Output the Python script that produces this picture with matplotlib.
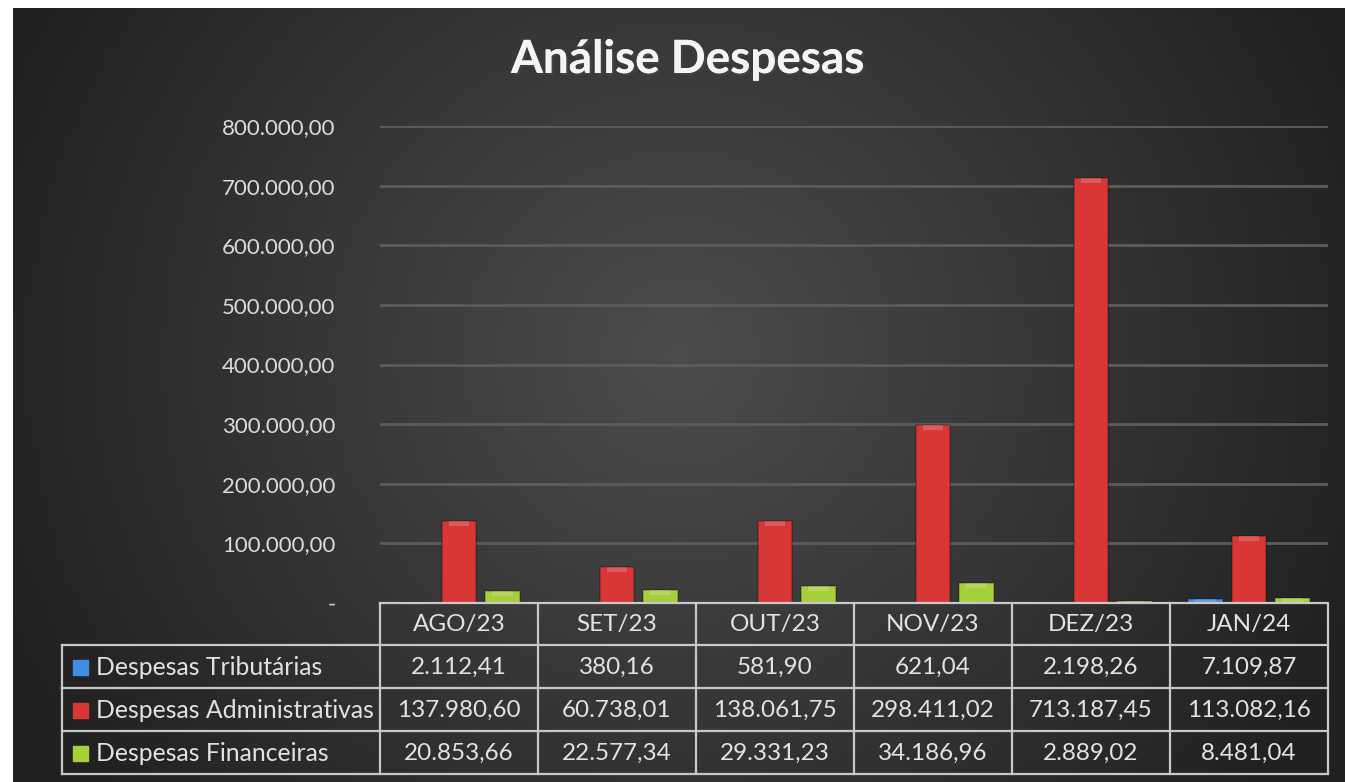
import matplotlib
matplotlib.use("Agg")
import matplotlib.pyplot as plt
import matplotlib.patheffects as pe
from matplotlib.patches import Rectangle
import numpy as np

months = ["AGO/23", "SET/23", "OUT/23", "NOV/23", "DEZ/23", "JAN/24"]
series = ["Despesas Tributárias", "Despesas Administrativas", "Despesas Financeiras"]
tributarias = [2112.41, 380.16, 581.90, 621.04, 2198.26, 7109.87]
administrativas = [137980.60, 60738.01, 138061.75, 298411.02, 713187.45, 113082.16]
financeiras = [20853.66, 22577.34, 29331.23, 34186.96, 2889.02, 8481.04]
colors = ["#3f8ee0", "#d93636", "#a6cf3c"]
yticks = [0, 100000, 200000, 300000, 400000, 500000, 600000, 700000, 800000]


def fmt_br(v):
    s = f"{v:,.2f}"
    return s.replace(",", "X").replace(".", ",").replace("X", ".")


W, H = 1345, 782
plt.rcParams['font.family'] = ['Lato', 'DejaVu Sans']
fig = plt.figure(figsize=(W / 100, H / 100), dpi=100)
fig.patch.set_facecolor("white")

# background gradient (lighter in the middle, dark at the edges)
bg = fig.add_axes([13 / W, 0, 1 - 13 / W, 1 - 8 / H])
yy, xx = np.mgrid[0:1:200j, 0:1:300j]
d = np.sqrt(((xx - 0.5) / 0.55) ** 2 + ((yy - 0.45) / 0.9) ** 2)
shade = 0.30 - 0.17 * np.clip(d, 0, 1)
bg.imshow(np.dstack([shade, shade, shade]), aspect="auto", extent=[0, 1, 0, 1])
bg.axis("off")

# main plot
x0, x1, yb, yt = 380, 1328, 603, 126
ax = fig.add_axes([x0 / W, 1 - yb / H, (x1 - x0) / W, (yb - yt) / H])
ax.set_facecolor("none")
x = np.arange(len(months))
w = 0.22
off = 0.275
data = [tributarias, administrativas, financeiras]
for i, vals in enumerate(data):
    ax.bar(x + (i - 1) * off, vals, w, color=colors[i], edgecolor="none", zorder=3)
    # darker sides + bevelled top
    ax.bar(x + (i - 1) * off, vals, w, color="none", edgecolor="black",
           linewidth=1.2, alpha=0.25, zorder=4)
    ax.bar(x + (i - 1) * off, [min(v, 9000) for v in vals], w * 0.6,
           bottom=[v - min(v, 9000) for v in vals], color="white", alpha=0.18,
           edgecolor="none", zorder=4)
ax.set_xlim(-0.5, len(months) - 0.5)
ax.set_ylim(0, 800000)
ax.set_yticks(yticks)
ax.set_yticklabels(["-" if t == 0 else fmt_br(t) for t in yticks])
ax.tick_params(axis="y", length=0, pad=32, labelsize=16, labelcolor="#dcdcdc")
ax.set_xticks([])
ax.grid(axis="y", color="#5c5c5c", linewidth=2, zorder=0)
for s in ax.spines.values():
    s.set_visible(False)

fig.text(688 / W, 1 - 60 / H, "Análise Despesas", ha="center", va="center",
         fontsize=33, fontweight="bold", color="#f4f4f4",
         path_effects=[pe.withSimplePatchShadow(offset=(1.5, -1.5), alpha=0.6), pe.Normal()])

# data table below the plot
ov = fig.add_axes([0, 0, 1, 1])
ov.set_xlim(0, W)
ov.set_ylim(H, 0)
ov.axis("off")
lc = "#c8c8c8"
tx = 62
col_w = (x1 - x0) / len(months)
rows = [603, 645, 688, 731, 774]
tc = "#e2e2e2"
fs = 17.5
ov.plot([x0, x1, x1], [rows[0], rows[0], rows[-1]], color=lc, lw=1.6)
ov.plot([x0, x0], [rows[0], rows[-1]], color=lc, lw=1.6)
ov.plot([tx, tx], [rows[1], rows[-1]], color=lc, lw=1.6)
for r in rows[1:]:
    ov.plot([tx, x1], [r, r], color=lc, lw=1.6)
for j in range(1, len(months)):
    ov.plot([x0 + j * col_w] * 2, [rows[0], rows[-1]], color=lc, lw=1.6)
for j, m in enumerate(months):
    ov.text(x0 + (j + 0.5) * col_w, (rows[0] + rows[1]) / 2 + 1, m,
            ha="center", va="center", fontsize=fs, color=tc)
for i, name in enumerate(series):
    yc = (rows[i + 1] + rows[i + 2]) / 2 + 1
    ov.add_patch(Rectangle((73, yc - 8), 15, 15, color=colors[i]))
    ov.text(96, yc, name, ha="left", va="center", fontsize=17.8, color=tc)
    for j, v in enumerate(data[i]):
        ov.text(x0 + (j + 0.5) * col_w, yc, fmt_br(v),
                ha="center", va="center", fontsize=fs, color=tc)

fig.savefig("out.png", dpi=100)
